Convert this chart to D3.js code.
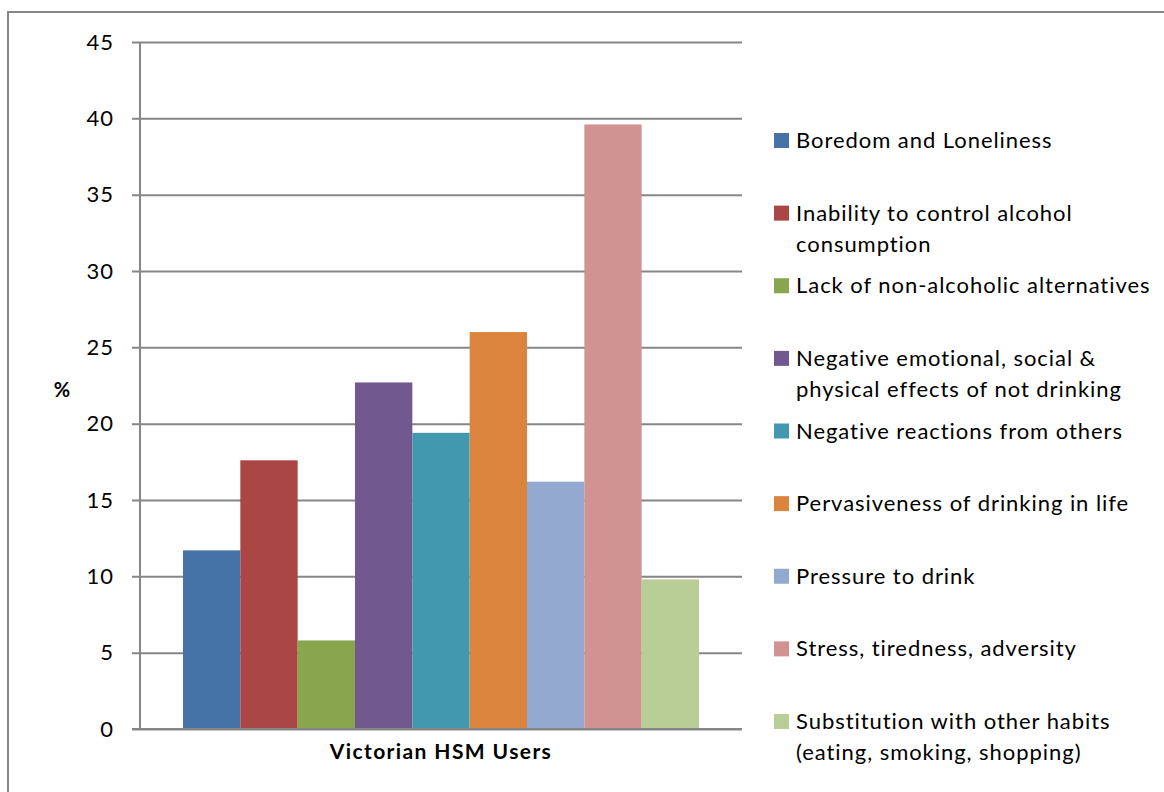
<!DOCTYPE html>
<html>
<head>
<meta charset="utf-8">
<script src="https://cdn.jsdelivr.net/npm/d3@7"></script>
<style>
  html, body { margin: 0; padding: 0; background: #fff; }
  svg { display: block; font-family: Lato, "Open Sans", sans-serif; }
</style>
</head>
<body>
<svg id="chart" width="1164" height="792"></svg>
<script>
// Reasons for relapse among Victorian HSM users (%)
const categories = ["Victorian HSM Users"];
const seriesNames = [
  "Boredom and Loneliness",
  "Inability to control alcohol consumption",
  "Lack of non-alcoholic alternatives",
  "Negative emotional, social & physical effects of not drinking",
  "Negative reactions from others",
  "Pervasiveness of drinking in life",
  "Pressure to drink",
  "Stress, tiredness, adversity",
  "Substitution with other habits (eating, smoking, shopping)"
];
const legendLines = [
  ["Boredom and Loneliness"],
  ["Inability to control alcohol", "consumption"],
  ["Lack of non-alcoholic alternatives"],
  ["Negative emotional, social &", "physical effects of not drinking"],
  ["Negative reactions from others"],
  ["Pervasiveness of drinking in life"],
  ["Pressure to drink"],
  ["Stress, tiredness, adversity"],
  ["Substitution with other habits", "(eating, smoking, shopping)"]
];
const values = [11.7, 17.6, 5.8, 22.7, 19.4, 26.0, 16.2, 39.6, 9.8];
const colors = ["#4572A7", "#AA4643", "#89A54E", "#71588F", "#4198AF",
                "#DB843D", "#93A9CF", "#D19392", "#B9CD96"];
const yTicks = [0, 5, 10, 15, 20, 25, 30, 35, 40, 45];

const svg = d3.select("#chart");
const plot = { left: 140, right: 742, top: 42, bottom: 729 };

// outer chart border
svg.append("rect")
  .attr("x", 8).attr("y", 12)
  .attr("width", 1164).attr("height", 800)
  .attr("fill", "none").attr("stroke", "#868686").attr("stroke-width", 2);

const y = d3.scaleLinear().domain([0, 45]).range([plot.bottom, plot.top]);
// category band: bars fill 9 of 10.5 bar widths (150% gap split on both sides)
const x0 = d3.scaleBand().domain(categories).range([plot.left, plot.right])
  .paddingInner(0).paddingOuter(0.75 / 9);
const x1 = d3.scaleBand().domain(seriesNames).range([0, x0.bandwidth()]).padding(0);

// gridlines with tick marks
const gy = svg.append("g").attr("transform", `translate(${plot.right},0)`);
gy.call(d3.axisLeft(y).tickValues(yTicks).tickSize(plot.right - plot.left + 8).tickFormat(""));
gy.select(".domain").remove();
gy.selectAll(".tick line").attr("stroke", "#868686").attr("stroke-width", 2);

// tick labels
const gl = svg.append("g").attr("transform", `translate(${plot.left},0)`);
gl.call(d3.axisLeft(y).tickValues(yTicks).tickSize(0).tickPadding(26).tickFormat(d3.format("d")));
gl.select(".domain").remove();
gl.selectAll(".tick text").attr("font-family", "Lato, sans-serif")
  .attr("font-size", 22).attr("letter-spacing", 1).attr("fill", "#000");

// vertical axis line
svg.append("line")
  .attr("x1", plot.left).attr("x2", plot.left)
  .attr("y1", plot.top).attr("y2", plot.bottom)
  .attr("stroke", "#868686").attr("stroke-width", 2);

// bars
svg.append("g").selectAll("rect").data(values).join("rect")
  .attr("x", (d, i) => x0(categories[0]) + x1(seriesNames[i]))
  .attr("width", x1.bandwidth())
  .attr("y", d => y(d))
  .attr("height", d => y(0) - y(d))
  .attr("fill", (d, i) => colors[i]);

// baseline
svg.append("line")
  .attr("x1", plot.left - 8).attr("x2", plot.right)
  .attr("y1", plot.bottom).attr("y2", plot.bottom)
  .attr("stroke", "#868686").attr("stroke-width", 2);

// category label
svg.append("text")
  .attr("x", x0(categories[0]) + x0.bandwidth() / 2).attr("y", 759)
  .attr("text-anchor", "middle").attr("font-size", 21).attr("font-weight", "bold")
  .attr("letter-spacing", 1.4)
  .text(categories[0]);

// y axis title
svg.append("text")
  .attr("x", 62).attr("y", 397)
  .attr("text-anchor", "middle").attr("font-size", 20).attr("font-weight", "bold")
  .text("%");

// legend
const legend = svg.append("g");
const legendY = d3.scaleLinear().domain([0, 8]).range([140, 721]);
legendLines.forEach((lines, i) => {
  const cy = legendY(i);
  legend.append("rect")
    .attr("x", 774).attr("y", cy - 7)
    .attr("width", 15).attr("height", 15)
    .attr("fill", colors[i]);
  lines.forEach((t, j) => {
    legend.append("text")
      .attr("x", 796).attr("y", cy + 8 + j * 31)
      .attr("font-size", 22).attr("letter-spacing", 0.95).attr("fill", "#000")
      .text(t);
  });
});
</script>
</body>
</html>
